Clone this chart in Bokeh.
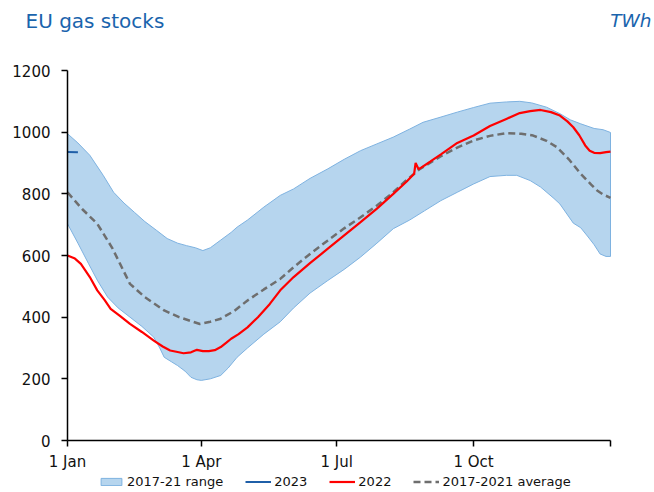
from bokeh.plotting import figure
from bokeh.models import Label, Legend, LegendItem, FixedTicker, Range1d
from bokeh.embed import file_html
from bokeh.resources import INLINE

# ---- data (day of year, TWh) ----
upper_days = [0, 7, 15, 24, 31, 38, 45, 52, 60, 67, 74, 80, 86, 91, 96, 103, 110, 114, 121,
              132, 143, 152, 163, 175, 186, 197, 208, 219, 230, 239, 251, 262, 273, 284,
              295, 304, 312, 322, 331, 338, 345, 354, 360, 365]
upper_vals = [995, 965, 925, 860, 805, 770, 740, 710, 681, 655, 640, 632, 625, 616, 625, 650, 675, 692, 715,
              757, 795, 816, 850, 881, 912, 940, 962, 984, 1010, 1032, 1049, 1065, 1080, 1094,
              1098, 1100, 1095, 1081, 1060, 1040, 1027, 1012, 1008, 999]

lower_days = [0, 7, 14, 20, 27, 34, 42, 50, 58, 62, 65, 70, 74, 79, 83, 87, 90, 96, 103, 108, 114,
              121, 132, 143, 152, 163, 175, 186, 197, 208, 219, 230, 240, 251, 262, 273, 284,
              295, 302, 311, 318, 327, 331, 340, 345, 350, 354, 358, 362, 365]
lower_vals = [703, 640, 575, 520, 465, 430, 400, 370, 335, 300, 270, 255, 243, 225, 205, 197, 195, 200, 211, 235, 270,
              300, 345, 385, 430, 478, 519, 555, 595, 640, 687, 715, 745, 778, 805, 832, 856,
              860, 860, 843, 822, 785, 767, 705, 690, 660, 635, 605, 597, 597]

avg_days = [0, 10, 20, 30, 42, 52, 65, 75, 89, 96, 103, 112, 121, 132, 143, 152, 163, 175, 186,
            197, 208, 219, 228, 237, 251, 262, 273, 284, 295, 305, 313, 322, 329, 337, 345,
            352, 356, 360, 365]
avg_vals = [805, 750, 703, 625, 508, 465, 422, 400, 378, 385, 395, 420, 454, 490, 524, 562, 605, 649, 688,
            724, 762, 805, 845, 881, 922, 950, 973, 988, 997, 995, 989, 972, 951, 912, 865,
            830, 811, 798, 787]

y2022_days = [0, 5, 9, 15, 20, 25, 29, 35, 42, 50, 58, 64, 69, 74, 78, 83, 87, 91, 95, 99, 103,
              107, 110, 115, 121, 128, 136, 143, 152, 163, 175, 186, 197, 208, 219, 228, 233,
              234, 236, 238, 244, 251, 262, 273, 284, 295, 304, 311, 318, 325, 331, 336, 340,
              344, 348, 351, 354, 358, 362, 365]
y2022_vals = [600, 590, 573, 530, 487, 455, 427, 405, 378, 352, 324, 305, 292, 287, 283, 286, 294, 290, 290, 293, 303,
              318, 330, 345, 367, 400, 443, 487, 530, 575, 622, 665, 708, 752, 800, 840, 865,
              900, 880, 886, 905, 928, 965, 989, 1020, 1043, 1062, 1068, 1072, 1065, 1054, 1035, 1016,
              990, 957, 940, 933, 932, 935, 937]

y2023_days = [0, 7]
y2023_vals = [936, 935]

month_ticks = [0, 90, 181, 273, 365]
month_labels = ["1 Jan", "1 Apr", "1 Jul", "1 Oct", ""]
value_ticks = [0, 200, 400, 600, 800, 1000, 1200]

FONT = "DejaVu Sans"
W, H = 652, 490
# plot area in canvas pixels
LEFT, RIGHT, TOP, BOTTOM = 67, 610, 70, 440
px_day = (RIGHT - LEFT) / 365.0
px_val = (BOTTOM - TOP) / 1200.0

x_start = -LEFT / px_day
x_end = 365 + (W - RIGHT) / px_day
y_end = BOTTOM / px_val
y_start = -(H - BOTTOM) / px_val

p = figure(width=W, height=H, output_backend="svg", toolbar_location=None,
           x_range=Range1d(x_start, x_end), y_range=Range1d(y_start, y_end),
           min_border=0)
p.outline_line_color = None
p.xgrid.grid_line_color = None
p.ygrid.grid_line_color = None

band_x = upper_days + lower_days[::-1]
band_y = upper_vals + lower_vals[::-1]
r_band = p.patch(band_x, band_y, fill_color="#b6d5ee", line_color="#7eb2e0", line_width=1)
r_avg = p.line(avg_days, avg_vals, line_color="#6e6e6e", line_width=2.5, line_dash="7 4")
r_22 = p.line(y2022_days, y2022_vals, line_color="#ff0000", line_width=2.2)
r_23 = p.line(y2023_days, y2023_vals, line_color="#1f5fa8", line_width=2)

for ax in (p.xaxis[0], p.yaxis[0]):
    ax.fixed_location = 0
    ax.axis_line_color = "black"
    ax.axis_line_width = 1.5
    ax.major_tick_line_color = "black"
    ax.major_tick_line_width = 1.5
    ax.major_tick_in = 0
    ax.major_tick_out = 6
    ax.minor_tick_line_color = None
    ax.major_label_text_font = FONT
    ax.major_label_text_font_size = "15px"
    ax.major_label_text_color = "#111111"

p.xaxis.bounds = (0, 365)
p.yaxis.bounds = (0, 1200)
p.xaxis.ticker = FixedTicker(ticks=month_ticks)
p.xaxis.major_label_overrides = {t: l for t, l in zip(month_ticks, month_labels)}
p.xaxis.major_label_standoff = 6
p.yaxis.ticker = FixedTicker(ticks=value_ticks)
p.yaxis.major_label_standoff = 11

legend = Legend(items=[
    LegendItem(label="2017-21 range", renderers=[r_band]),
    LegendItem(label="2023", renderers=[r_23]),
    LegendItem(label="2022", renderers=[r_22]),
    LegendItem(label="2017-2021 average", renderers=[r_avg]),
], orientation="horizontal", location=(98, 1))
legend.label_text_font = FONT
legend.label_text_font_size = "13px"
legend.label_text_color = "#111111"
legend.glyph_width = 26
legend.glyph_height = 9
legend.label_height = 14
legend.label_standoff = 3
legend.spacing = 22
legend.padding = 0
legend.margin = 0
legend.border_line_color = None
legend.background_fill_alpha = 0
p.add_layout(legend, "center")

p.add_layout(Label(x=25, y=H - 20, x_units="screen", y_units="screen", text="EU gas stocks",
                   text_font=FONT, text_font_size="20px", text_color="#1a64ad",
                   text_baseline="middle", text_align="left"))
p.add_layout(Label(x=W - 1, y=H - 20, x_units="screen", y_units="screen", text="TWh",
                   text_font=FONT, text_font_size="18.5px", text_font_style="italic",
                   text_color="#1a64ad", text_baseline="middle", text_align="right"))

open("out.html", "w").write(file_html(p, INLINE))
